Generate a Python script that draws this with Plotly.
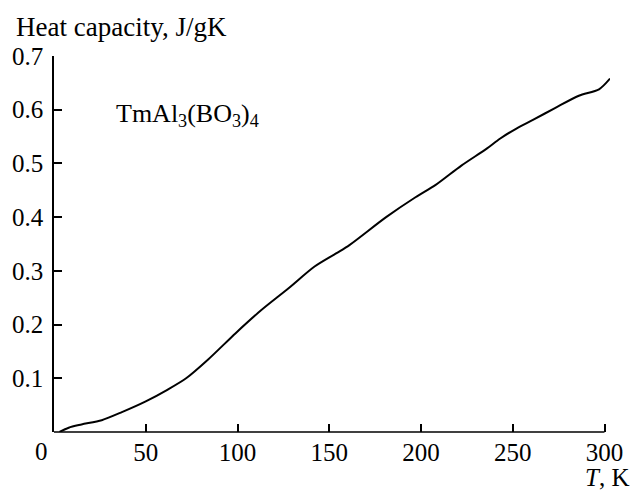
import plotly.graph_objects as go

# Data
temperature_K = [3, 8, 15, 26, 37, 50, 62, 72, 84, 99, 113, 128, 142, 154, 161,
                 181, 197, 208, 222, 236, 243, 252, 261, 273, 286, 297, 303]
heat_capacity = [0.0, 0.008, 0.014, 0.022, 0.037, 0.057, 0.079, 0.100, 0.135, 0.184,
                 0.227, 0.268, 0.308, 0.333, 0.348, 0.400, 0.437, 0.460, 0.496, 0.528,
                 0.546, 0.565, 0.581, 0.603, 0.626, 0.638, 0.658]

x_ticks = [50, 100, 150, 200, 250, 300]
y_ticks = [0.1, 0.2, 0.3, 0.4, 0.5, 0.6, 0.7]
y_tick_labels = ["0.1", "0.2", "0.3", "0.4", "0.5", "0.6", "0.7"]
x_range = [0, 303]
x_axis_end = 300

FONT = "Liberation Serif"
FS = 25

fig = go.Figure()
fig.add_trace(go.Scatter(
    x=temperature_K, y=heat_capacity, mode="lines",
    line=dict(color="black", width=2, shape="spline", smoothing=0.8),
    showlegend=False, hoverinfo="skip"))

axis_common = dict(linecolor="black", linewidth=1.5,
                   ticks="inside", ticklen=8, tickwidth=1.5, tickcolor="black",
                   showgrid=False, zeroline=False, mirror=False,
                   tickfont=dict(family=FONT, size=FS, color="black"))

fig.update_xaxes(range=x_range, tickvals=x_ticks, showline=False,
                 ticktext=[str(v) for v in x_ticks], ticklabelstandoff=3,
                 **axis_common)
fig.update_yaxes(range=[0, 0.7], tickvals=y_ticks, ticktext=y_tick_labels,
                 showline=True, ticklabelstandoff=4, **axis_common)

# x axis line drawn only up to the last tick, as in the reference
fig.add_shape(type="line", xref="paper", yref="paper",
              x0=0, x1=(x_axis_end - x_range[0]) / (x_range[1] - x_range[0]),
              y0=0, y1=0, line=dict(color="black", width=1.5), layer="above")

fig.update_layout(
    width=635, height=490,
    margin=dict(l=51, r=16, t=56, b=58),
    paper_bgcolor="white", plot_bgcolor="white",
    font=dict(family=FONT, size=FS, color="black"),
    annotations=[
        dict(text="Heat capacity, J/gK", xref="paper", yref="paper",
             x=-0.0722, y=1.077, xanchor="left", yanchor="middle",
             showarrow=False, font=dict(family=FONT, size=27)),
        dict(text="TmAl<sub>3</sub>(BO<sub>3</sub>)<sub>4</sub>", xref="paper", yref="paper",
             x=0.1075, y=0.843, xanchor="left", yanchor="middle",
             showarrow=False, font=dict(family=FONT, size=26)),
        dict(text="<i>T</i>, K", xref="paper", yref="paper",
             x=1.0377, y=-0.122, xanchor="right", yanchor="middle",
             showarrow=False, font=dict(family=FONT, size=FS)),
        dict(text="0", xref="paper", yref="paper",
             x=-0.0229, y=-0.053, xanchor="center", yanchor="middle",
             showarrow=False, font=dict(family=FONT, size=FS)),
    ],
)

fig.write_html("out.html")
